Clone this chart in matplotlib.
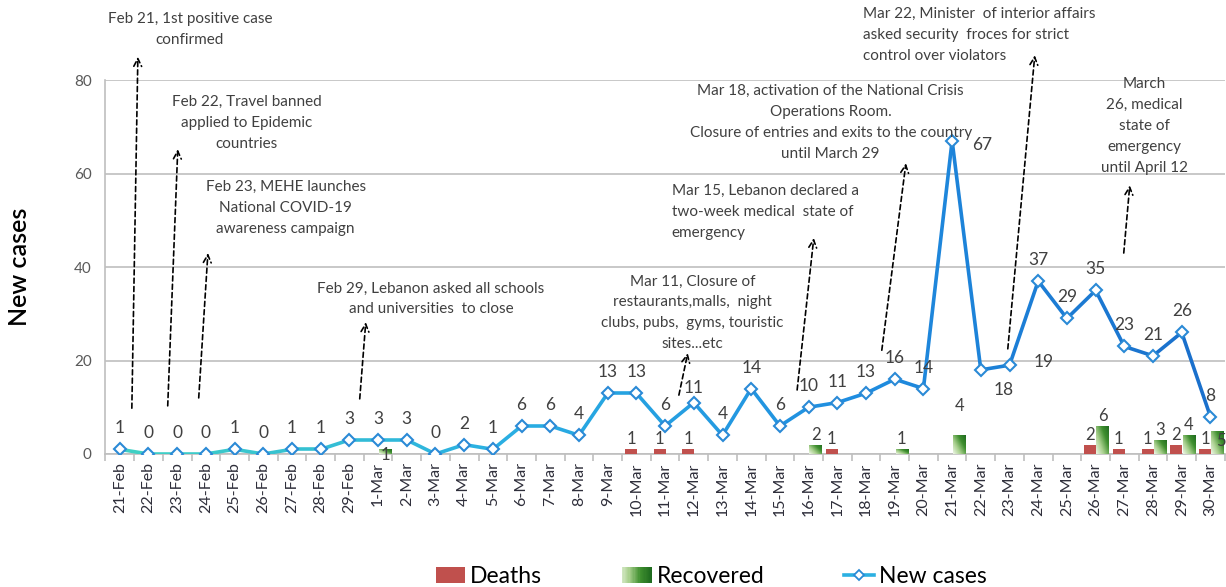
'''Lebanon COVID-19 daily new cases, deaths and recoveries with key events'''

import numpy as np
import matplotlib
matplotlib.use('Agg')
import matplotlib.pyplot as plt
from matplotlib.collections import LineCollection
from matplotlib.colors import LinearSegmentedColormap
from matplotlib.legend_handler import HandlerBase
from matplotlib.lines import Line2D
from matplotlib.patches import Rectangle, Patch

plt.rcParams['font.family'] = ['Lato', 'DejaVu Sans']

dates = ['21-Feb', '22-Feb', '23-Feb', '24-Feb', '25-Feb', '26-Feb', '27-Feb', '28-Feb',
         '29-Feb'] + [f'{d}-Mar' for d in range(1, 31)]
new_cases = [1, 0, 0, 0, 1, 0, 1, 1, 3, 3, 3, 0, 2, 1, 6, 6, 4, 13, 13, 6,
             11, 4, 14, 6, 10, 11, 13, 16, 14, 67, 18, 19, 37, 29, 35, 23, 21, 26, 8]
deaths = {'10-Mar': 1, '11-Mar': 1, '12-Mar': 1, '17-Mar': 1, '26-Mar': 2,
          '27-Mar': 1, '28-Mar': 1, '29-Mar': 2, '30-Mar': 1}
recovered = {'1-Mar': 1, '16-Mar': 2, '19-Mar': 1, '21-Mar': 4, '26-Mar': 6,
             '28-Mar': 3, '29-Mar': 4, '30-Mar': 5}

# (text, text position, arrow start, arrow tip, alignment) in category / value units
events = [
    ('Feb 21, 1st positive case\nconfirmed', (2.44, 90.8), (0.42, 9.8), (0.63, 85.0), 'center'),
    ('Feb 22, Travel banned\napplied to Epidemic\ncountries', (4.43, 70.8), (1.67, 10.3), (2.02, 65.2), 'center'),
    ('Feb 23, MEHE launches\nNational COVID-19\nawareness campaign', (5.78, 52.6), (2.75, 12.0), (3.07, 43.0), 'center'),
    ('Feb 29, Lebanon asked all schools\nand universities  to close', (10.84, 33.2), (8.36, 11.8), (8.57, 28.2), 'center'),
    ('Mar 11, Closure of\nrestaurants,malls,  night\nclubs, pubs,  gyms, touristic\nsites...etc', (19.95, 30.2),
     (19.48, 12.6), (19.79, 21.6), 'center'),
    ('Mar 15, Lebanon declared a\ntwo-week medical  state of\nemergency', (19.23, 51.8), (23.6, 13.7), (24.18, 46.2), 'left'),
    ('Mar 18, activation of the National Crisis\nOperations Room.\nClosure of entries and exits to the country\n'
     'until March 29', (24.77, 70.9), (26.55, 22.2), (27.39, 62.2), 'center'),
    ('Mar 22, Minister  of interior affairs\nasked security  froces for strict\ncontrol over violators', (25.89, 89.6),
     (30.94, 22.5), (31.88, 85.3), 'left'),
    ('March\n26, medical\nstate of\nemergency\nuntil April 12', (35.71, 70.2), (34.98, 43.0), (35.19, 57.5), 'center'),
]

# label offsets (pixels) that differ from the default "above" placement
case_label_offsets = {'12-Mar': (0, 15), '21-Mar': (20, -4), '22-Mar': (13, -20), '23-Mar': (24, 3)}
rec_label_offsets = {'1-Mar': (0, -6), '21-Mar': (0, 29), '30-Mar': (3, -10)}

TEXT = '#404040'
GRID = '#bfbfbf'
green_cmap = LinearSegmentedColormap.from_list('rec', ['#eef6e6', '#a9d08e', '#3f8f2f', '#1f6b1f'])
line_cmap = LinearSegmentedColormap.from_list('cases', ['#3fd0c4', '#2bb0e2', '#1f8ee0', '#1a70cc'])

x = np.arange(len(dates))
idx = {d: i for i, d in enumerate(dates)}

fig = plt.figure(figsize=(12.26, 5.87), dpi=100)
ax = fig.add_axes([0.086, 0.2266, 0.913, 0.637])
ax.set_xlim(-0.5, len(dates) - 0.5)
ax.set_ylim(0, 80)

ax.set_yticks([0, 20, 40, 60, 80])
ax.yaxis.grid(True, color=GRID, lw=1.2)
ax.set_axisbelow(True)
for s in ['top', 'right']:
    ax.spines[s].set_visible(False)
for s in ['left', 'bottom']:
    ax.spines[s].set_color(GRID)
    ax.spines[s].set_linewidth(1.2)
ax.tick_params(axis='y', length=0, labelsize=11, labelcolor='#595959', pad=10)
ax.set_xticks(x)
ax.set_xticklabels(dates, rotation=90, fontsize=11.5, color='#2e2e3a')
ax.tick_params(axis='x', length=0, pad=6)
ax.set_xticks(np.arange(-0.5, len(dates)), minor=True)
ax.tick_params(axis='x', which='minor', length=5, color=GRID, width=1.2)
ax.set_ylabel('New cases', fontsize=18, color='black', labelpad=31, fontweight='semibold')

# bars
d_x = [idx[k] - 0.19 for k in deaths]
r_x = [idx[k] + 0.25 for k in recovered]
d_bars = ax.bar(d_x, list(deaths.values()), width=0.42, color='#c0504d', zorder=3)
r_bars = ax.bar(r_x, list(recovered.values()), width=0.44, color='none', zorder=3)
gx, gy = np.meshgrid(np.linspace(0, 1, 40), np.linspace(0, 1, 40))
grad = 0.55 * gx + 0.45 * gy
for b in r_bars:
    x0, w, h = b.get_x(), b.get_width(), b.get_height()
    im = ax.imshow(grad, cmap=green_cmap, extent=(x0, x0 + w, 0, h), origin='lower',
                   aspect='auto', zorder=3, vmin=0, vmax=1)
    im.set_clip_path(b)
ax.set_xlim(-0.5, len(dates) - 0.5)
ax.set_ylim(0, 80)

for k, v in deaths.items():
    ax.annotate(str(v), (idx[k] - 0.19, v), xytext=(0, 2), textcoords='offset pixels',
                ha='center', va='bottom', fontsize=12, color=TEXT, zorder=5)
for k, v in recovered.items():
    off = rec_label_offsets.get(k)
    if off is None:
        ax.annotate(str(v), (idx[k] + 0.25, v), xytext=(0, 2), textcoords='offset pixels',
                    ha='center', va='bottom', fontsize=12, color=TEXT, zorder=5)
    else:
        ax.annotate(str(v), (idx[k] + 0.25, v), xytext=off, textcoords='offset pixels',
                    ha='center', va='center', fontsize=12, color=TEXT, zorder=5)

# new cases line with a teal-to-blue gradient
pts = np.column_stack([x, new_cases])
segs = np.stack([pts[:-1], pts[1:]], axis=1)
lc = LineCollection(segs, colors=line_cmap(np.linspace(0, 1, len(segs))), linewidths=2.6,
                    zorder=4, capstyle='round', joinstyle='round')
ax.add_collection(lc)
ax.plot(x, new_cases, ls='none', marker='D', ms=6.5, mfc='white', mec='#2a8ad6', mew=1.5, zorder=5)

for i, (d, v) in enumerate(zip(dates, new_cases)):
    off = case_label_offsets.get(d, (0, 21))
    ha = 'left' if off[0] > 0 else 'center'
    ax.annotate(str(v), (i, v), xytext=off, textcoords='offset pixels', ha=ha, va='center',
                fontsize=12.5, color=TEXT, zorder=6)

# event annotations
for text, tpos, start, tip, align in events:
    ax.text(tpos[0], tpos[1], text, ha=align, va='center', multialignment=align, fontsize=11,
            color=TEXT, linespacing=1.62, clip_on=False, zorder=6)
    ax.annotate('', xy=tip, xytext=start, annotation_clip=False,
                arrowprops=dict(arrowstyle='->', ls=(0, (3, 2)), lw=1.2, color='black',
                                mutation_scale=14, shrinkA=0, shrinkB=0))


class GradientPatchHandler(HandlerBase):
    def create_artists(self, legend, orig_handle, xdescent, ydescent, width, height, fontsize, trans):
        n = 24
        arts = []
        for i in range(n):
            r = Rectangle((-xdescent + width * i / n, -ydescent), width / n + 0.3, height,
                          facecolor=green_cmap(0.15 + 0.85 * i / (n - 1)), edgecolor='none', transform=trans)
            arts.append(r)
        return arts


h_deaths = Patch(facecolor='#c0504d')
h_rec = Patch(facecolor='#5fa046')
h_cases = Line2D([], [], color='#2bb0e2', lw=2.6, marker='D', ms=5.5, mfc='white', mec='#2a8ad6', mew=1.3)
fig.legend([h_deaths, h_rec, h_cases], ['Deaths', 'Recovered', 'New cases'], ncol=3,
           loc='lower center', bbox_to_anchor=(0.58, -0.035), frameon=False, fontsize=16.5,
           handlelength=1.3, handletextpad=0.2, columnspacing=3.5,
           handler_map={h_rec: GradientPatchHandler()})

fig.savefig('out.png', dpi=100)
